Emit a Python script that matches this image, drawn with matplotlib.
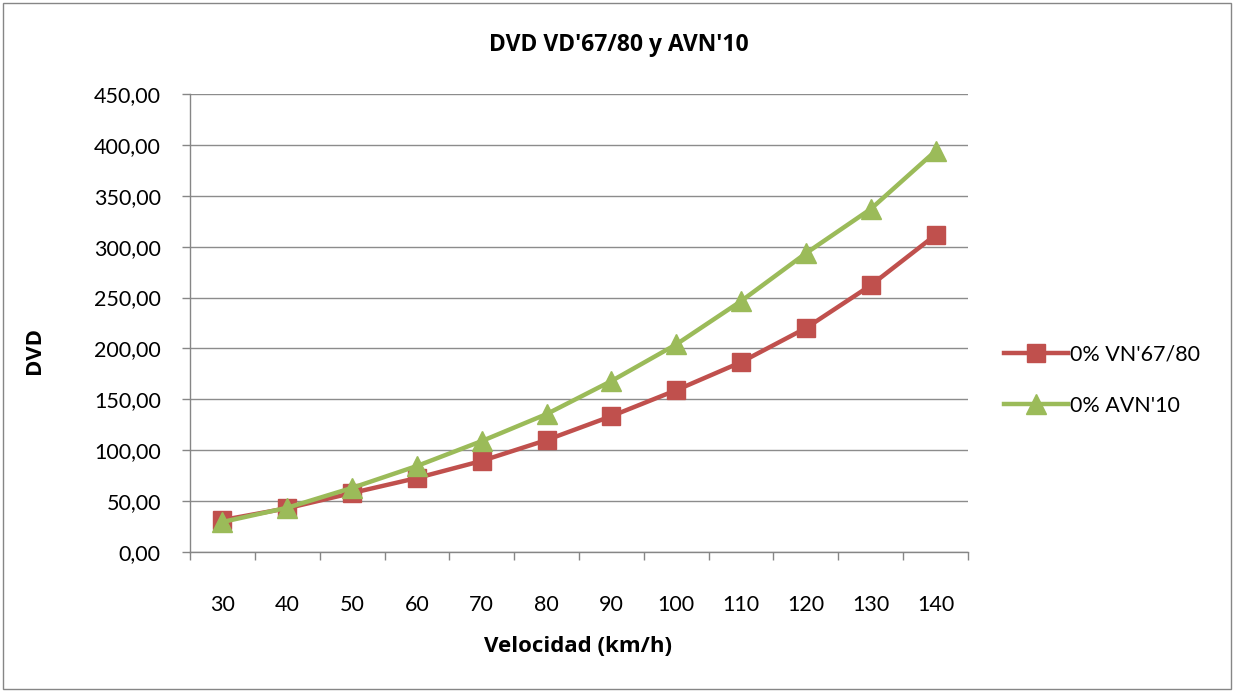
import matplotlib
matplotlib.use("Agg")
import matplotlib.pyplot as plt
from matplotlib.ticker import FuncFormatter, MultipleLocator
from matplotlib.patches import Rectangle

plt.rcParams['font.family'] = ['Lato', 'DejaVu Sans']

velocidades = [30, 40, 50, 60, 70, 80, 90, 100, 110, 120, 130, 140]
dvd_vn6780 = [31.4, 43.0, 58.0, 72.7, 89.5, 110.0, 133.5, 159.0, 186.5, 220.0, 262.0, 311.5]
dvd_avn10 = [29.5, 43.5, 63.0, 84.5, 109.0, 135.5, 168.0, 204.0, 246.5, 293.5, 337.0, 394.0]
serie_labels = ["0% VN'67/80", "0% AVN'10"]

W, H = 1234, 692
fig = plt.figure(figsize=(W / 100, H / 100), dpi=100)

# chart border
fig.patches.append(Rectangle((3 / W, 3 / H), 1 - 6 / W, 1 - 6 / H, transform=fig.transFigure,
                             fill=False, edgecolor='#868686', linewidth=1.0))

ax = fig.add_axes([190 / W, 1 - 552 / H, (968 - 190) / W, (552 - 94) / H])

x = list(range(len(velocidades)))
ax.plot(x, dvd_vn6780, color='#C0504D', linewidth=3.2, marker='s', markersize=13.5,
        label=serie_labels[0], zorder=3)
ax.plot(x, dvd_avn10, color='#9BBB59', linewidth=3.2, marker='^', markersize=14,
        label=serie_labels[1], zorder=4)

ax.set_xlim(-0.5, len(velocidades) - 0.5)
ax.set_ylim(0, 450)
ax.yaxis.set_major_locator(MultipleLocator(50))
ax.yaxis.set_major_formatter(FuncFormatter(lambda v, p: f"{v:.2f}".replace('.', ',')))
ax.grid(axis='y', color='#8C8C8C', linewidth=1.0)
ax.set_axisbelow(True)

# category ticks at boundaries, labels centered
ax.set_xticks([i - 0.5 for i in range(len(velocidades) + 1)])
ax.set_xticklabels([])
ax.set_xticks(x, minor=True)
ax.set_xticklabels([str(v) for v in velocidades], minor=True)
ax.tick_params(axis='x', which='major', length=6, width=1, color='#868686', direction='out')
ax.tick_params(axis='x', which='minor', length=0, pad=31, labelsize=15.5)
ax.tick_params(axis='y', length=6, width=1, color='#868686', direction='out', labelsize=15.5, pad=15)

for side in ['top', 'right']:
    ax.spines[side].set_visible(False)
for side in ['left', 'bottom']:
    ax.spines[side].set_color('#868686')
    ax.spines[side].set_linewidth(1.0)

bold_font = ['Open Sans', 'DejaVu Sans']
fig.text(619 / W, 1 - 45 / H, "DVD VD'67/80 y AVN'10", ha='center', va='center',
         fontsize=16.5, fontweight='bold', family=bold_font)
fig.text(578 / W, 1 - 647 / H, "Velocidad (km/h)", ha='center', va='center',
         fontsize=16, fontweight='bold', family=bold_font)
fig.text(35 / W, 1 - 350 / H, "DVD", ha='center', va='center', rotation=90,
         fontsize=16, fontweight='bold', family=bold_font)

leg = fig.legend(loc='center left', bbox_to_anchor=(995 / W, 1 - 380 / H), frameon=False,
                 fontsize=15.5, handlelength=3.0, handletextpad=0.1, labelspacing=1.45,
                 borderaxespad=0)

fig.savefig('out.png', dpi=100)
